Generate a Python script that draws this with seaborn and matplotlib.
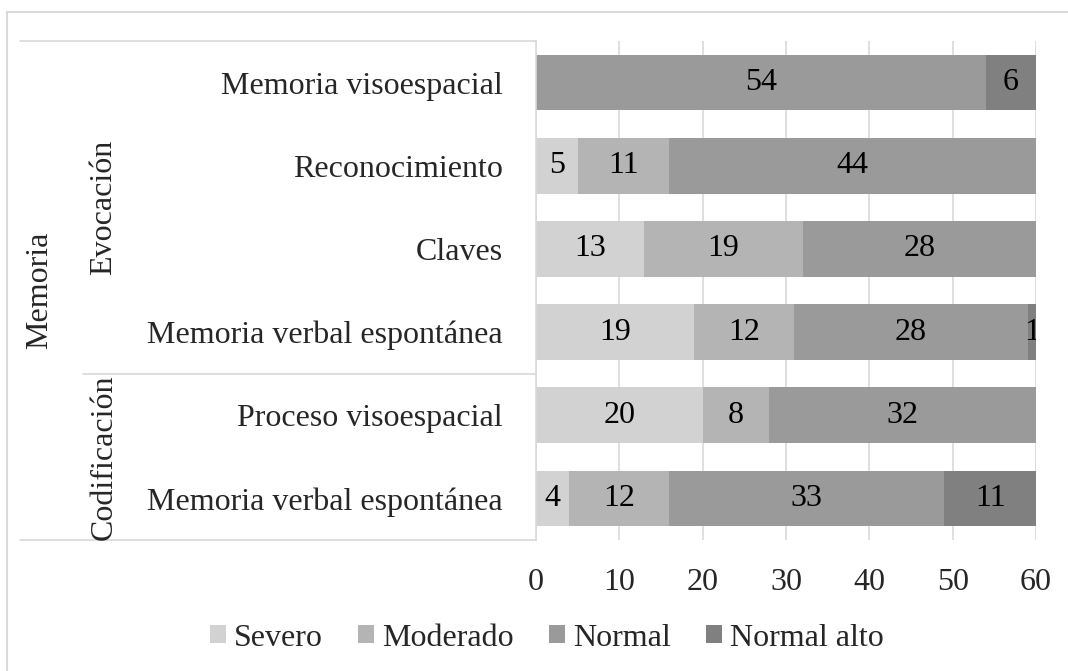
import seaborn as sns
import pandas as pd
import numpy as np
import matplotlib.pyplot as plt
import matplotlib.transforms as mtransforms
from matplotlib.lines import Line2D
from matplotlib.patches import Patch

# categories, top to bottom
groups = ["Evocación", "Evocación", "Evocación", "Evocación", "Codificación", "Codificación"]
items = ["Memoria visoespacial", "Reconocimiento", "Claves",
         "Memoria verbal espontánea", "Proceso visoespacial", "Memoria verbal espontánea"]
top_group = "Memoria"

levels = ["Severo", "Moderado", "Normal", "Normal alto"]
severo = [0, 5, 13, 19, 20, 4]
moderado = [0, 11, 19, 12, 8, 12]
normal = [54, 44, 28, 28, 32, 33]
normal_alto = [6, 0, 0, 1, 0, 11]
x_ticks = [0, 10, 20, 30, 40, 50, 60]

colors = ["#d2d2d2", "#b4b4b4", "#9a9a9a", "#808080"]
grid_col = "#d9d9d9"
FS = 23

sns.set_style("white")
plt.rcParams['font.family'] = ['Liberation Serif', 'DejaVu Serif']
plt.rcParams['font.size'] = FS

keys = [f"{g} | {it}" for g, it in zip(groups, items)]
df = pd.DataFrame({"row": keys, "Severo": severo, "Moderado": moderado,
                   "Normal": normal, "Normal alto": normal_alto})
cum = df[levels].cumsum(axis=1)

fig = plt.figure(figsize=(10.68, 6.71), dpi=100)
ax = fig.add_axes([536 / 1068, 1 - 540 / 671, 500 / 1068, 499 / 671])

# overlay cumulative bars from the longest to the shortest -> stacked look
for lvl, col in reversed(list(zip(levels, colors))):
    sns.barplot(data=cum.assign(row=keys), x=lvl, y="row", color=col,
                width=0.67, saturation=1, ax=ax, zorder=2, linewidth=0)

# segment labels
for i in range(len(keys)):
    for lvl in levels:
        v = df.loc[i, lvl]
        if v == 0:
            continue
        xc = cum.loc[i, lvl] - v / 2
        ax.text(xc, i, str(v), ha="center", va="center", fontsize=FS,
                color="black", zorder=3, clip_on=True)

ax.set_xlim(0, 60)
ax.set_xticks(x_ticks)
ax.set_xlabel("")
ax.set_ylabel("")
ax.set_yticks(range(len(keys)))
ax.set_yticklabels(items)
ax.tick_params(axis="y", length=0, pad=24, labelsize=FS)
ax.tick_params(axis="x", length=0, pad=20, labelsize=FS)
ax.grid(axis="x", color=grid_col, linewidth=1.2, zorder=0)
ax.set_axisbelow(True)
for s in ["top", "right", "bottom"]:
    ax.spines[s].set_visible(False)
ax.spines["left"].set_color(grid_col)
ax.spines["left"].set_linewidth(1.2)

# multi-level category axis
tr = mtransforms.blended_transform_factory(fig.transFigure, ax.transData)
x_axis = 536 / 1068
line_kw = dict(color=grid_col, linewidth=1.2, transform=tr, clip_on=False)
fig.add_artist(Line2D([20 / 1068, x_axis], [-0.5, -0.5], **line_kw))
fig.add_artist(Line2D([20 / 1068, x_axis], [5.5, 5.5], **line_kw))
fig.add_artist(Line2D([83 / 1068, x_axis], [3.5, 3.5], **line_kw))

ypos = np.arange(len(keys))
for g in ["Evocación", "Codificación"]:
    yc = ypos[[k == g for k in groups]].mean()
    fig.text(104 / 1068, yc, g, rotation=90, ha="center", va="center",
             fontsize=FS, transform=tr)
fig.text(40 / 1068, ypos.mean(), top_group, rotation=90, ha="center",
         va="center", fontsize=FS, transform=tr)

# chart border (only top and left visible)
fig.add_artist(Line2D([7 / 1068, 7 / 1068], [0, 1 - 12 / 671], color=grid_col,
                      linewidth=1.5, transform=fig.transFigure))
fig.add_artist(Line2D([7 / 1068, 1], [1 - 12 / 671, 1 - 12 / 671], color=grid_col,
                      linewidth=1.5, transform=fig.transFigure))

handles = [Patch(facecolor=c, edgecolor="none", label=l) for l, c in zip(levels, colors)]
fig.legend(handles=handles, loc="center", bbox_to_anchor=(547 / 1068, 1 - 638 / 671),
           ncol=4, frameon=False, fontsize=FS, handlelength=0.5, handleheight=0.5,
           handletextpad=0.25, columnspacing=1.1)

fig.savefig("out.png", dpi=100)
